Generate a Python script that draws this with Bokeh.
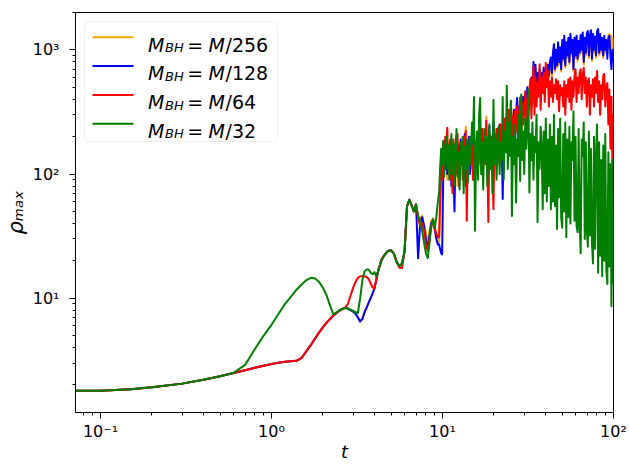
import numpy as np
from bokeh.plotting import figure
from bokeh.models import Range1d, FixedTicker, Label, BoxAnnotation
from bokeh.embed import file_html
from bokeh.resources import INLINE

# ---------------- data ----------------
t_early = [0.0714, 0.1, 0.15, 0.2, 0.3, 0.4, 0.5, 0.6,
           0.7, 0.8, 0.9, 1.0, 1.1, 1.2, 1.3, 1.4, 1.5, 1.6, 1.7, 1.8, 1.9, 2.0, 2.1, 2.2,
           2.3, 2.4, 2.5, 2.6, 2.7,
           2.8, 2.9, 3.0, 3.1, 3.2, 3.3, 3.4, 3.5, 3.6, 3.7, 3.8, 3.9, 4.0, 4.1, 4.2,
           4.4, 4.6, 4.8, 5.0, 5.2, 5.4, 5.6, 5.8, 6.0, 6.2, 6.4, 6.6, 6.8, 7.0,
           7.2, 7.4, 7.6, 7.8, 8.0, 8.2, 8.4, 8.6, 8.8, 9.0, 9.2, 9.4]

t_late = [9.55, 9.68, 9.82, 9.95, 10.09, 10.23, 10.38, 10.52, 10.67, 10.81,
          10.96, 11.12, 11.27, 11.43, 11.59, 11.75, 11.91, 12.08, 12.25, 12.42,
          12.59, 12.76, 12.94, 13.12, 13.30, 13.49, 13.68, 13.87, 14.06, 14.26,
          14.45, 14.66, 14.86, 15.07, 15.28, 15.49, 15.70, 15.92, 16.14, 16.37,
          16.60, 16.83, 17.06, 17.30, 17.54, 17.78, 18.03, 18.28, 18.54, 18.79,
          19.05, 19.32, 19.59, 19.86, 20.14, 20.42, 20.70, 20.99, 21.28, 21.58,
          21.88, 22.18, 22.49, 22.80, 23.12, 23.44, 23.77, 24.10, 24.43, 24.77,
          25.12, 25.47, 25.82, 26.18, 26.55, 26.92, 27.29, 27.67, 28.05, 28.45,
          28.84, 29.24, 29.65, 30.06, 30.48, 30.90, 31.33, 31.77, 32.21, 32.66,
          33.11, 33.57, 34.04, 34.51, 34.99, 35.48, 35.97, 36.48, 36.98, 37.50,
          38.02, 38.55, 39.08, 39.63, 40.18, 40.74, 41.30, 41.88, 42.46, 43.05,
          43.65, 44.26, 44.87, 45.50, 46.13, 46.77, 47.42, 48.08, 48.75, 49.43,
          50.12, 50.82, 51.52, 52.24, 52.97, 53.70, 54.45, 55.21, 55.98, 56.75,
          57.54, 58.34, 59.16, 59.98, 60.81, 61.66, 62.52, 63.39, 64.27, 65.16,
          66.07, 66.99, 67.92, 68.87, 69.82, 70.79, 71.78, 72.78, 73.79, 74.82,
          75.86, 76.91, 77.98, 79.07, 80.17, 81.28, 82.41, 83.56, 84.72, 85.90,
          87.10, 88.31, 89.54, 90.78, 92.04, 93.33, 94.62, 95.94, 97.27, 98.63,
          100.0]

rho_red_early = [1.80, 1.80, 1.85, 1.92, 2.05, 2.20, 2.35, 2.50,
                 2.63, 2.75, 2.86, 2.95, 3.02, 3.07, 3.10, 3.13, 3.30, 3.75, 4.20, 4.75, 5.30, 5.85, 6.35, 6.80,
                 7.25, 7.60, 7.95, 8.20, 8.40,
                 9.0, 10.5, 12.1, 13.5, 14.6, 15.0, 15.0, 15.0, 14.8, 14.3, 13.2, 12.2, 12.0, 14.2, 16.5,
                 20.5, 22.5, 24.0, 24.3, 22.8, 19.5, 17.6, 17.5, 24.0, 55.0, 62.0, 56.0, 50.0, 57.0,
                 44.0, 38.0, 40.0, 35.0, 27.0, 24.0, 30.0, 38.0, 42.0, 36.0, 33.0, 31.0]

rho_blue_early = [1.80, 1.80, 1.85, 1.92, 2.05, 2.20, 2.35, 2.50,
                  2.63, 2.75, 2.86, 2.95, 3.02, 3.07, 3.10, 3.13, 3.30, 3.75, 4.20, 4.75, 5.30, 5.85, 6.35, 6.80,
                  7.25, 7.60, 7.95, 8.20, 8.40,
                  8.2, 8.0, 7.8, 7.5, 7.0, 6.5, 6.8, 7.7, 8.4, 9.2, 10.0, 10.9, 12.0, 14.0, 16.5,
                  20.5, 22.5, 24.0, 24.3, 22.8, 19.5, 18.2, 19.0, 24.0, 55.0, 62.0, 56.0, 50.0, 57.0,
                  21.0, 40.0, 45.0, 38.0, 30.0, 25.0, 32.0, 40.0, 43.0, 36.0, 30.0, 27.0]

rho_orange_early = [1.80, 1.80, 1.85, 1.92, 2.05, 2.20, 2.35, 2.50,
                    2.63, 2.75, 2.86, 2.95, 3.02, 3.07, 3.10, 3.13, 3.30, 3.75, 4.20, 4.75, 5.30, 5.85, 6.35, 6.80,
                    7.25, 7.60, 7.95, 8.20, 8.40,
                    8.2, 8.0, 7.8, 7.5, 7.0, 6.5, 6.8, 7.7, 8.4, 9.2, 10.0, 10.9, 12.0, 14.0, 16.5,
                    20.5, 22.5, 24.0, 24.3, 22.8, 19.5, 18.2, 19.0, 24.0, 55.0, 62.0, 56.0, 50.0, 57.0,
                    45.0, 44.0, 46.0, 40.0, 33.0, 28.0, 35.0, 42.0, 44.0, 38.0, 32.0, 28.0]

rho_green_early = [1.80, 1.80, 1.85, 1.92, 2.05, 2.20, 2.35, 2.50,
                   2.90, 3.90, 5.00, 6.10, 7.50, 9.00, 10.3, 11.7, 12.9, 14.0, 14.6, 14.4, 13.5, 12.1, 10.5, 8.7,
                   7.40, 7.70, 8.00, 8.20, 8.30,
                   8.30, 8.10, 7.90, 7.70, 7.60, 10.0, 14.0, 16.5, 17.0, 17.0, 16.0, 15.6, 16.2, 15.0, 16.5,
                   20.0, 22.5, 24.0, 24.3, 22.8, 19.5, 18.1, 19.0, 24.0, 55.0, 62.0, 56.0, 50.0, 57.0,
                   46.0, 42.0, 35.0, 28.0, 23.0, 21.0, 28.0, 38.0, 43.0, 37.0, 45.0, 60.0]

rho_orange_late = [28, 45, 90, 130, 100, 170, 120, 150, 90, 180,
                   110, 160, 95, 190, 120, 150, 80, 170, 130, 180,
                   100, 170, 120, 190, 110, 160, 240, 90, 170, 120,
                   190, 110, 160, 130, 200, 100, 180, 140, 210, 120,
                   170, 130, 220, 110, 190, 150, 290, 120, 180, 140,
                   210, 130, 190, 160, 230, 120, 200, 170, 240, 140,
                   220, 160, 250, 190, 240, 170, 280, 210, 250, 190,
                   390, 220, 300, 250, 330, 240, 380, 270, 340, 260,
                   360, 280, 400, 300, 380, 320, 450, 310, 430, 360,
                   550, 370, 720, 420, 700, 400, 620, 470, 650, 450,
                   600, 490, 680, 530, 660, 570, 720, 590, 750, 820,
                   620, 900, 1050, 670, 950, 720, 1090, 760, 1000, 670,
                   1140, 810, 1230, 720, 1090, 860, 1190, 770, 1270, 900,
                   1140, 670, 1190, 860, 1230, 810, 1120, 900, 1250, 950,
                   1310, 760, 1190, 900, 1280, 1350, 860, 1240, 1370, 810,
                   1280, 950, 1220, 860, 1330, 1400, 900, 1270, 950, 1190,
                   860, 1240, 950, 1140, 1000, 1300, 1340, 1100, 1300, 950, 1250]

rho_blue_late = [27, 25, 23, 22.5, 90, 150, 110, 180, 100, 160,
                 120, 190, 80, 170, 100, 50, 150, 200, 110, 170,
                 90, 190, 120, 160, 100, 210, 80, 180, 130, 200,
                 100, 170, 120, 220, 90, 180, 140, 200, 110, 170,
                 130, 230, 100, 190, 150, 210, 120, 180, 140, 240,
                 110, 200, 150, 260, 120, 190, 170, 230, 130, 250,
                 160, 210, 63, 220, 180, 280, 150, 240, 200, 300,
                 170, 260, 220, 330, 180, 300, 410, 230, 350, 280,
                 380, 250, 420, 300, 400, 350, 500, 320, 460, 400,
                 600, 380, 800, 450, 760, 420, 650, 500, 700, 480,
                 650, 520, 720, 560, 700, 600, 760, 620, 800, 867,
                 650, 950, 1112, 700, 1000, 750, 1150, 800, 1050, 700,
                 1200, 850, 1297, 750, 1150, 900, 1250, 800, 1340, 950,
                 1200, 700, 1250, 900, 1300, 850, 1180, 950, 1320, 1000,
                 1380, 800, 1250, 950, 1350, 1420, 900, 1300, 1440, 850,
                 1350, 1000, 1280, 900, 1400, 1470, 950, 1340, 1000, 1250,
                 900, 1300, 1000, 1200, 850, 1250, 1300, 900, 700, 1000, 800]

rho_red_late = [31, 60, 120, 90, 170, 130, 200, 160, 236, 110,
                170, 90, 150, 70, 190, 120, 160, 100, 210, 80,
                150, 120, 180, 90, 200, 130, 222, 42, 160, 100,
                190, 120, 170, 90, 210, 140, 180, 100, 200, 130,
                160, 110, 230, 150, 190, 120, 268, 140, 41, 180,
                130, 200, 110, 52, 190, 150, 230, 120, 200, 160,
                250, 140, 220, 170, 280, 150, 240, 190, 330, 160,
                375, 200, 290, 170, 320, 220, 350, 190, 300, 414,
                230, 380, 250, 330, 465, 260, 400, 300, 480, 580,
                280, 520, 742, 300, 600, 350, 540, 420, 765, 330,
                600, 450, 650, 380, 788, 500, 675, 350, 560, 420,
                600, 380, 520, 450, 580, 400, 560, 320, 520, 430,
                494, 350, 560, 300, 520, 420, 580, 380, 598, 330,
                560, 420, 620, 697, 380, 600, 450, 650, 697, 400,
                620, 719, 450, 600, 350, 560, 590, 300, 520, 420,
                580, 350, 600, 450, 675, 380, 560, 300, 520, 400,
                620, 640, 350, 500, 540, 250, 480, 160, 420, 110, 300]

rho_green_late = [70, 110, 160, 120, 185, 95, 150, 200, 110, 170,
                  90, 140, 210, 100, 175, 80, 160, 230, 95, 150,
                  75, 180, 120, 200, 70, 165, 110, 190, 85, 150,
                  200, 120, 260, 180, 418, 35, 140, 220, 90, 300,
                  410, 100, 180, 75, 230, 130, 200, 80, 160, 250,
                  110, 190, 70, 395, 120, 210, 90, 170, 240, 100,
                  180, 130, 418, 90, 220, 150, 513, 110, 260, 140,
                  389, 46, 200, 120, 250, 59, 190, 140, 300, 88,
                  437, 130, 220, 100, 280, 160, 240, 478, 71, 210,
                  130, 260, 90, 200, 150, 300, 41, 180, 110, 240,
                  170, 52, 220, 70, 280, 60, 190, 80, 250, 52,
                  200, 60, 300, 55, 170, 36, 230, 65, 280, 45,
                  37, 210, 50, 260, 31, 190, 45, 240, 40, 180,
                  130, 320, 42, 200, 38, 34, 230, 40, 23, 190,
                  140, 260, 30, 180, 35, 26, 220, 32, 160, 28,
                  19, 200, 25, 150, 250, 16, 180, 22, 130, 15,
                  170, 20, 210, 17, 13, 150, 18, 120, 8.6, 130, 13]

series_names = ["M/256", "M/128", "M/64", "M/32"]
series_colors = ["orange", "blue", "red", "green"]
series_early = [rho_orange_early, rho_blue_early, rho_red_early, rho_green_early]
series_late = [rho_orange_late, rho_blue_late, rho_red_late, rho_green_late]

x_ticks = [0.1, 1, 10, 100]
x_tick_labels = ["10\u207b\u00b9", "10\u2070", "10\u00b9", "10\u00b2"]
y_ticks = [10, 100, 1000]
y_tick_labels = ["10\u00b9", "10\u00b2", "10\u00b3"]
x_title = "t"
y_title = "\u03c1\u2098\u2090\u2093"

# ---------------- figure ----------------
p = figure(width=629, height=464, x_axis_type="log", y_axis_type="log",
           x_range=Range1d(0.0714, 100), y_range=Range1d(1.2, 2000),
           output_backend="svg", toolbar_location=None, title=None,
           min_border_left=74, min_border_right=16, min_border_top=12, min_border_bottom=52)
p.xgrid.visible = False
p.ygrid.visible = False
p.outline_line_color = "black"
p.outline_line_width = 1
p.outline_line_alpha = 1.0
p.background_fill_color = "white"
p.border_fill_color = "white"

x_minor = [m * 10.0 ** e for e in (-2, -1, 0, 1) for m in range(2, 10)]
y_minor = [m * 10.0 ** e for e in (0, 1, 2, 3) for m in range(2, 10)]
p.xaxis.ticker = FixedTicker(ticks=x_ticks, minor_ticks=x_minor)
p.yaxis.ticker = FixedTicker(ticks=y_ticks, minor_ticks=y_minor)
p.xaxis.major_label_overrides = dict(zip(x_ticks, x_tick_labels))
p.yaxis.major_label_overrides = dict(zip(y_ticks, y_tick_labels))

for ax in (p.xaxis[0], p.yaxis[0]):
    ax.major_tick_in = 0
    ax.major_tick_out = 6
    ax.minor_tick_in = 0
    ax.minor_tick_out = 3
    ax.axis_line_color = "black"
    ax.major_tick_line_color = "black"
    ax.minor_tick_line_color = "black"
    ax.major_label_text_font = "DejaVu Sans"
    ax.major_label_text_font_size = "16px"
    ax.major_label_text_color = "black"
    ax.axis_label_text_font = "DejaVu Sans"
    ax.axis_label_text_font_style = "italic"
    ax.axis_label_text_color = "black"
p.xaxis.major_label_standoff = 3
p.yaxis.major_label_standoff = 10
p.xaxis.axis_label = x_title
p.xaxis.axis_label_text_font_size = "18px"
p.xaxis.axis_label_standoff = -3
p.yaxis.axis_label = y_title
p.yaxis.axis_label_text_font_size = "21px"
p.yaxis.axis_label_standoff = 2

for name, color, early, late in zip(series_names, series_colors, series_early, series_late):
    p.line(t_early + t_late, early + late, line_color=color, line_width=2, line_join="round")

# ---------------- legend (screen positions in page pixels) ----------------
FL, FB = 74, 412  # frame left / bottom in page pixels


def sx(px):
    return px - FL


def sy(py):
    return FB - py


def label(px, py, text, size, italic=False):
    p.add_layout(Label(x=sx(px), y=sy(py), x_units="screen", y_units="screen", text=text,
                       text_font="DejaVu Sans", text_font_size=f"{size}px",
                       text_font_style="italic" if italic else "normal",
                       text_color="black", text_align="left", text_baseline="alphabetic"))


p.add_layout(BoxAnnotation(left=sx(83), right=sx(276), top=sy(21), bottom=sy(141),
                           left_units="screen", right_units="screen",
                           top_units="screen", bottom_units="screen",
                           fill_color="white", fill_alpha=0.8, line_color="#cccccc",
                           line_width=1, border_radius=4))

for i, (name, color) in enumerate(zip(series_names, series_colors)):
    yc = 36.7 + 28.85 * i
    yb = 44.0 + 28.8 * i
    p.add_layout(BoxAnnotation(left=sx(91), right=sx(132), top=sy(yc - 1), bottom=sy(yc + 1),
                               left_units="screen", right_units="screen",
                               top_units="screen", bottom_units="screen",
                               fill_color=color, fill_alpha=1.0, line_alpha=0))
    label(146.5, yb, "M", 19, italic=True)
    label(163.5, yb + 3, "BH", 13, italic=True)
    label(185.7, yb, "=", 19)
    label(207.0, yb, "M", 19, italic=True)
    label(224.0, yb, name[1:], 19)

open("out.html", "w").write(file_html(p, INLINE))
